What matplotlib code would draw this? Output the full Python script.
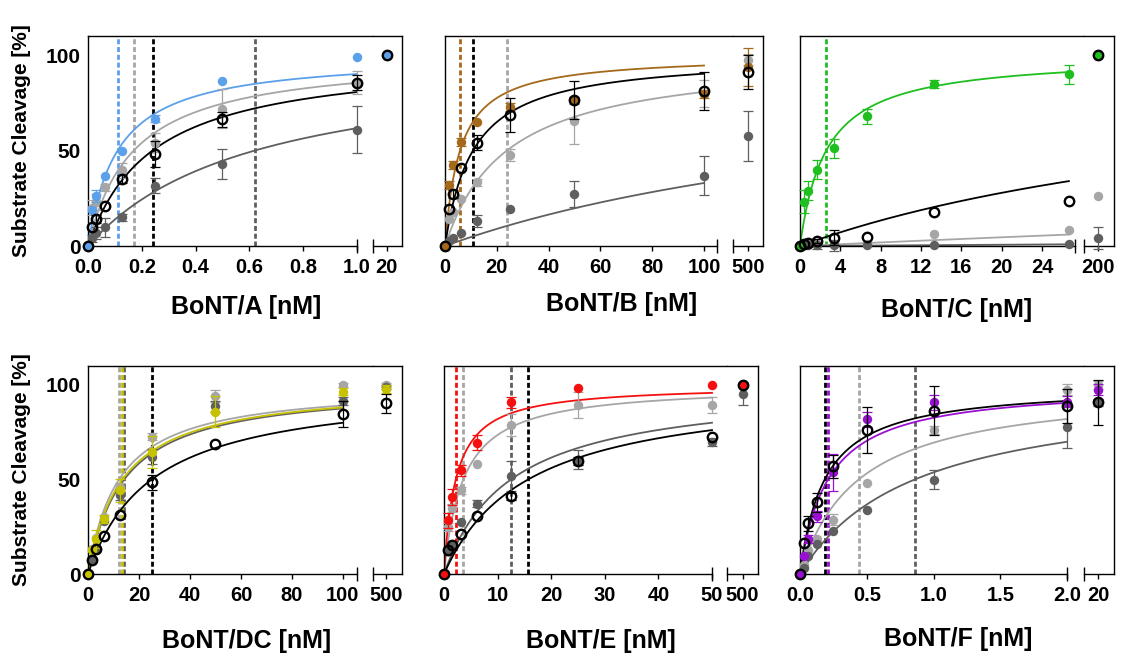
import numpy as np
import matplotlib.pyplot as plt

plt.rcParams['font.family'] = ['Liberation Sans', 'DejaVu Sans']
plt.rcParams['font.weight'] = 'bold'

W, H = 1121, 655

LGREY = '#a6a6a6'
DGREY = '#5f5f5f'

# ---------------- data (last entry = value behind the axis break) ----------------
# order of series in each panel: coloured, light grey, dark grey, open black circles
a_conc = [0, 0.0156, 0.03125, 0.0625, 0.125, 0.25, 0.5, 1.0, 20]
a_col = [0, 18.6, 26.3, 36.5, 49.8, 66.7, 86.5, 99, 100]
a_col_err = [0, 0, 3, 0, 0, 2, 0, 0, 0]
a_light = [0, 20, 23, 30.7, 39.6, 54, 72, 85.6, 100]
a_light_err = [0, 4, 4, 2, 4, 5, 10, 6, 0]
a_dark = [0, 4, 6.7, 9.8, 15, 31.6, 43, 61, 100]
a_dark_err = [0, 2, 3, 5, 2, 4, 8, 12.5, 0]
a_open = [0, 10.2, 14.2, 21.2, 35, 48.2, 66.3, 85.6, 100]
a_open_err = [0, 0, 2, 0, 2, 6.6, 4, 4, 0]
a_ec50 = [0.11, 0.17, 0.62, 0.24]

b_conc = [0, 1.5625, 3.125, 6.25, 12.5, 25, 50, 100, 500]
b_col = [0, 32, 42.5, 54.6, 65, 72.8, 76.3, 79.7, 93.6]
b_col_err = [0, 2, 2, 2, 0, 2, 2, 2, 10]
b_light = [0, 13.9, 18, 24.6, 33.3, 47.7, 65.3, 79.7, 97.6]
b_light_err = [0, 0, 0, 0, 2, 3, 12, 7, 3]
b_dark = [0, 2.6, 4.3, 6.9, 13, 19.4, 27.2, 36.9, 57.5]
b_dark_err = [0, 0, 0, 0, 3, 0, 7, 10, 13]
b_open = [0, 19.6, 27.2, 40.7, 54.2, 68.5, 76.3, 81, 91]
b_open_err = [0, 0, 2, 0, 4, 9, 10, 10, 9]
b_ec50 = [5.8, 23.9, 203, 10.8]

c_conc = [0, 0.4167, 0.833, 1.667, 3.333, 6.667, 13.33, 26.67, 200]
c_col = [0, 23.2, 29, 39.9, 51.3, 68, 85, 90, 100]
c_col_err = [0, 6, 5, 5, 5, 4, 2, 5, 0]
c_light = [0, 0.5, 1, 1, 1, 1, 6.5, 8.3, 26.4]
c_light_err = [0, 0, 0, 0, 0, 0, 0, 0, 0]
c_dark = [0, 0.3, 0.3, 0.3, 0.3, 0.3, 0.4, 0.9, 4.2]
c_dark_err = [0, 0, 0, 2, 3, 0, 0, 0, 6]
c_open = [0, 1, 1.8, 2.6, 4.4, 4.7, 17.6, 23.6, 100]
c_open_err = [0, 0, 0, 1, 4, 0, 0, 0, 0]
c_ec50 = [2.6, 418, 3000, 51.8]

dc_conc = [0, 1.5625, 3.125, 6.25, 12.5, 25, 50, 100, 500]
dc_col = [0, 12.5, 18.5, 29.2, 44.2, 64.3, 85.9, 96.5, 97.7]
dc_col_err = [0, 0, 5, 2, 6, 8.5, 8, 2, 2]
dc_light = [0, 13, 19, 30, 46, 72.7, 94.2, 100, 100]
dc_light_err = [0, 0, 0, 0, 2, 2, 3, 1, 1]
dc_dark = [0, 7.6, 13, 28, 42, 62, 88.6, 91.5, 99]
dc_dark_err = [0, 0, 0, 0, 3, 4, 3, 2, 1]
dc_open = [0, 7.6, 13.2, 19.9, 31.3, 48.6, 68.8, 84.7, 90.3]
dc_open_err = [0, 0, 0, 0, 0, 4, 0, 7, 5]
dc_ec50 = [13.5, 12.2, 14.2, 25]

e_conc = [0, 0.78, 1.5625, 3.125, 6.25, 12.5, 25, 50, 500]
e_col = [0, 28.3, 40.7, 54.9, 69.4, 90.8, 98.2, 100, 100]
e_col_err = [0, 4, 4, 3, 4, 3, 0, 0, 0]
e_light = [0, 24.8, 35, 44.2, 58.4, 78.8, 89.4, 89.4, 100]
e_light_err = [0, 2, 2, 2, 0, 6, 7, 4, 0]
e_dark = [0, 12.4, 15, 27.4, 37.2, 51.9, 60.5, 69.9, 95.2]
e_dark_err = [0, 0, 0, 0, 2, 8, 5, 2, 6]
e_open = [0, 12.9, 15.6, 21.2, 30.6, 41.1, 59.8, 72.6, 100]
e_open_err = [0, 0, 0, 0, 0, 2, 2, 0, 0]
e_ec50 = [2.2, 3.6, 12.5, 15.7]

f_conc = [0, 0.03125, 0.0625, 0.125, 0.25, 0.5, 1.0, 2.0, 20]
f_col = [0, 9.7, 18.5, 30.5, 53.7, 81.9, 90.7, 91.2, 97.4]
f_col_err = [0, 0, 2, 3, 10, 4, 4, 3, 3]
f_light = [0, 5, 12.9, 18.5, 28.7, 48.1, 76.2, 97.4, 100]
f_light_err = [0, 0, 0, 0, 3, 0, 2, 3, 2]
f_dark = [0, 3, 9.3, 16, 22.5, 33.6, 49.8, 77.6, 90.7]
f_dark_err = [0, 0, 0, 0, 0, 0, 5, 11, 2]
f_open = [0, 16.4, 26.9, 37.9, 56.9, 76.2, 86.4, 88.9, 90.7]
f_open_err = [0, 0, 4, 5, 6, 12, 13, 9, 12]
f_ec50 = [0.21, 0.44, 0.86, 0.185]

labels = ['BoNT/A [nM]', 'BoNT/B [nM]', 'BoNT/C [nM]',
          'BoNT/DC [nM]', 'BoNT/E [nM]', 'BoNT/F [nM]']
colours = ['#5ba0e9', '#a5691c', '#1fbf1f', '#c6c200', '#f51010', '#9a10d2']

ticks = [[0, 0.2, 0.4, 0.6, 0.8, 1.0], [0, 20, 40, 60, 80, 100],
         [0, 4, 8, 12, 16, 20, 24], [0, 20, 40, 60, 80, 100],
         [0, 10, 20, 30, 40, 50], [0, 0.5, 1.0, 1.5, 2.0]]
tick_fmt = ['{:.1f}', '{:g}', '{:g}', '{:g}', '{:g}', '{:.1f}']

# ---------------- layout (pixels) ----------------
# left, split, right, top, bottom, main-spine end, main xmax, break tick frac, label centre x, label top y
layout = [
    (88, 373, 402, 36, 246, 1.0, 1.0595, 0.48, 246, 295),
    (445, 733, 763, 36, 246, 105, 111.2, 0.50, 622, 292),
    (800, 1084, 1114, 36, 246, 27.3, 28.17, 0.47, 957, 298),
    (88, 373, 402, 366, 574, 105.5, 111.8, 0.45, 247, 629),
    (444, 727, 758, 366, 574, 50, 52.8, 0.50, 601, 629),
    (800, 1084, 1114, 366, 574, 2.0, 2.127, 0.47, 958, 627),
]

panels = [
    (a_conc, [a_col, a_light, a_dark, a_open], [a_col_err, a_light_err, a_dark_err, a_open_err], a_ec50),
    (b_conc, [b_col, b_light, b_dark, b_open], [b_col_err, b_light_err, b_dark_err, b_open_err], b_ec50),
    (c_conc, [c_col, c_light, c_dark, c_open], [c_col_err, c_light_err, c_dark_err, c_open_err], c_ec50),
    (dc_conc, [dc_col, dc_light, dc_dark, dc_open], [dc_col_err, dc_light_err, dc_dark_err, dc_open_err], dc_ec50),
    (e_conc, [e_col, e_light, e_dark, e_open], [e_col_err, e_light_err, e_dark_err, e_open_err], e_ec50),
    (f_conc, [f_col, f_light, f_dark, f_open], [f_col_err, f_light_err, f_dark_err, f_open_err], f_ec50),
]


def rect(l, r, top, bot):
    return [l / W, 1 - bot / H, (r - l) / W, (bot - top) / H]


def draw_series(ax, x, y, err, colour, open_marker, z):
    x = np.asarray(x, float)
    y = np.asarray(y, float)
    err = np.asarray(err, float)
    m = err > 0
    if m.any():
        ax.errorbar(x[m], y[m], yerr=err[m], fmt='none', ecolor=colour,
                    elinewidth=0.9, capsize=3.5, capthick=0.9, clip_on=False, zorder=z)
    if open_marker:
        ax.plot(x, y, 'o', ms=6.8, mfc='none', mec='k', mew=1.7, ls='none',
                clip_on=False, zorder=z + 0.5)
    else:
        ax.plot(x, y, 'o', ms=6.8, mfc=colour, mec=colour, mew=0, ls='none',
                clip_on=False, zorder=z + 0.5)


fig = plt.figure(figsize=(W / 100, H / 100), dpi=100)

for i, ((conc, vals, errs, ec50), lay) in enumerate(zip(panels, layout)):
    l, split, r, top, bot, spine_end, xmax, frac, lab_x, lab_top = lay
    colour = colours[i]
    cols = [colour, LGREY, DGREY, 'k']
    order = [1, 2, 0, 3]

    ax = fig.add_axes(rect(l, split, top, bot))
    bx = fig.add_axes(rect(split, r, top, bot))

    conc = np.asarray(conc, float)
    x_main, x_brk = conc[:-1], conc[-1]

    # fits and EC50 lines
    xs = np.linspace(0, x_main[-1], 300)
    for k, s in enumerate(order):
        ax.axvline(ec50[s], color=cols[s], ls=(0, (1.8, 1.0)), lw=2.0, zorder=1 + k * 0.1)
    for k, s in enumerate(order):
        ax.plot(xs, 100 * xs / (ec50[s] + xs), color=cols[s], lw=1.3, zorder=2 + k * 0.1)

    for k, s in enumerate(order):
        v = np.asarray(vals[s], float)
        e = np.asarray(errs[s], float)
        draw_series(ax, x_main, v[:-1], e[:-1], cols[s], s == 3, 3 + k)
        draw_series(bx, [x_brk], v[-1:], e[-1:], cols[s], s == 3, 3 + k)

    ax.set_xlim(0, xmax)
    ax.set_ylim(0, 110)
    w = x_brk * 0.2
    blo = x_brk - frac * w
    bx.set_xlim(blo, x_brk + (1 - frac) * w)
    bx.set_ylim(0, 110)

    for a in (ax, bx):
        for sp in a.spines.values():
            sp.set_linewidth(1.0)
            sp.set_color('k')
        a.tick_params(axis='x', direction='out', length=3.5, width=1.0, pad=5)
        a.tick_params(axis='y', length=0, pad=5)
    ax.spines['right'].set_visible(False)
    ax.spines['bottom'].set_bounds(0, spine_end)
    bx.spines['left'].set_visible(False)

    # break marks
    ax.plot([spine_end], [0], marker='|', ms=10, mew=1.0, color='k', clip_on=False, zorder=10)
    bx.plot([blo], [0], marker='|', ms=10, mew=1.0, color='k', clip_on=False, zorder=10)

    tk = ticks[i]
    ax.set_xticks(tk, [tick_fmt[i].format(t) for t in tk], fontsize=14.5, fontweight='bold')
    bx.set_xticks([x_brk], ['{:g}'.format(x_brk)], fontsize=14.5, fontweight='bold')
    bx.set_yticks([])

    ax.set_yticks([0, 50, 100])
    if i % 3 == 0:
        ax.set_yticklabels(['0', '50', '100'], fontsize=15, fontweight='bold')
        ax.set_ylabel('Substrate Cleavage [%]', fontsize=15, fontweight='bold')
        ax.yaxis.set_label_coords(-(l - 31) / (split - l), 0.5)
    else:
        ax.set_yticklabels([])

    ax.set_xlabel(labels[i], fontsize=18, fontweight='bold')
    ax.xaxis.set_label_coords((lab_x - l) / (split - l), -(lab_top - bot) / (bot - top))

fig.savefig('out.png', dpi=100)
